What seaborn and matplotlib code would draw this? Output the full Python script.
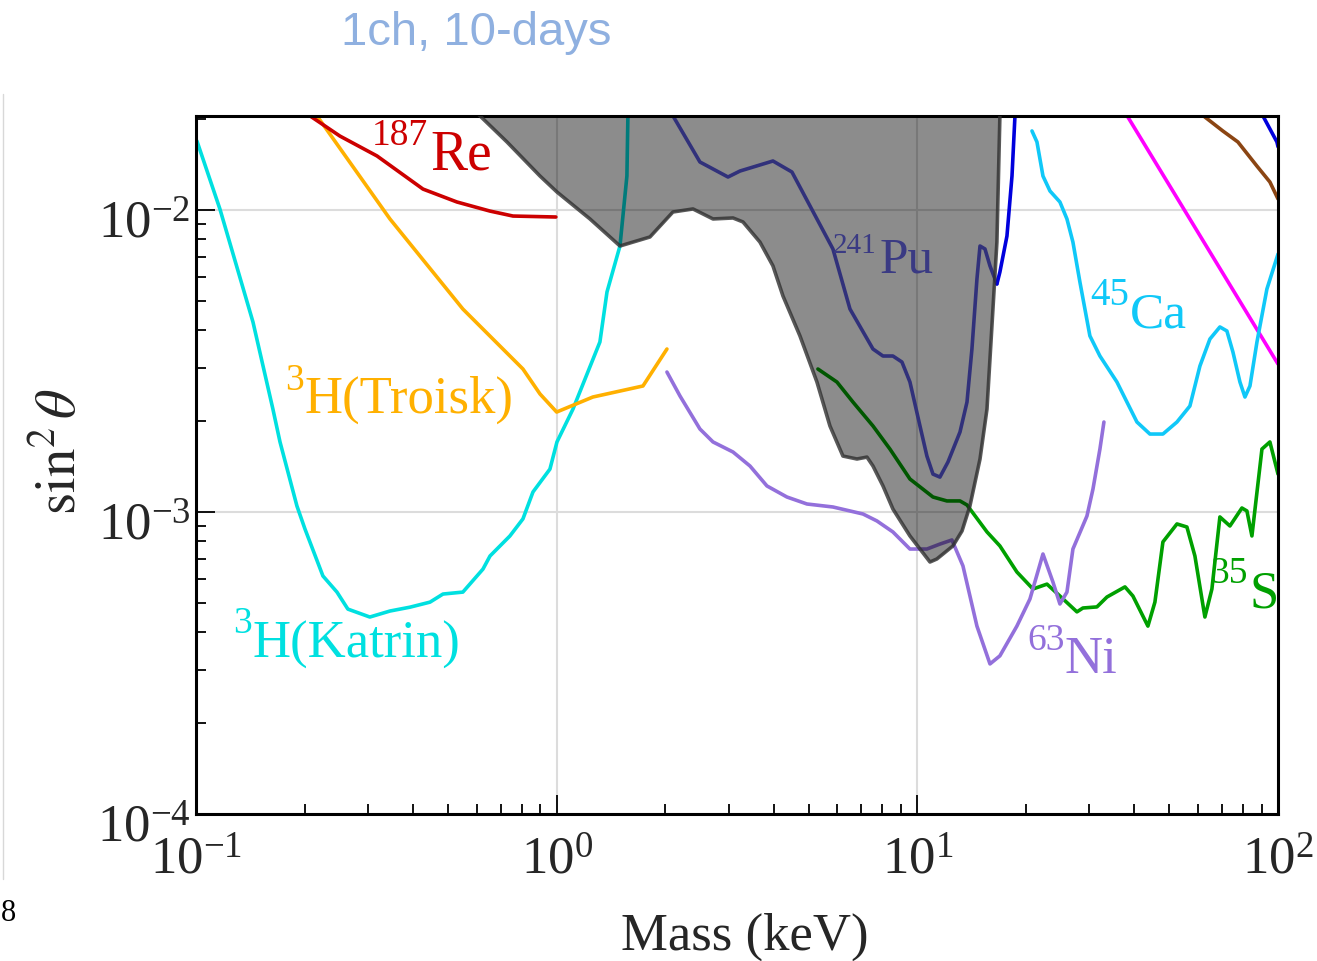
import matplotlib
matplotlib.use('Agg')
import matplotlib.pyplot as plt
import seaborn as sns
from matplotlib.lines import Line2D
from matplotlib.ticker import NullFormatter
from matplotlib.transforms import ScaledTranslation

# curves (mass in keV, sin^2 theta)
katrin_m = [0.1006, 0.1165, 0.1439, 0.1634, 0.171, 0.1905, 0.2005, 0.2249, 0.246, 0.2637,
            0.3034, 0.345, 0.392, 0.4455, 0.484, 0.5495, 0.6247, 0.6535, 0.742, 0.8064,
            0.8597, 0.958, 1.002, 1.11, 1.318, 1.379, 1.498, 1.566, 1.576, 1.58]
katrin_s = [0.01693, 0.01008, 0.004256, 0.002193, 0.001706, 0.001047, 0.000879, 0.000614, 0.000543, 0.000477,
            0.000449, 0.00047, 0.000484, 0.000503, 0.000535, 0.000543, 0.000647, 0.000715, 0.000833, 0.000949,
            0.001165, 0.001387, 0.001706, 0.002193, 0.003656, 0.005353, 0.0076, 0.01296, 0.0205, 0.03]

troisk_m = [0.199, 0.2165, 0.345, 0.5495, 0.8064, 0.899, 1.0, 1.26, 1.735, 2.022]
troisk_s = [0.0233, 0.0205, 0.00934, 0.0047, 0.002975, 0.00246, 0.002143, 0.002403, 0.002614, 0.003465]

re_m = [0.2, 0.207, 0.2507, 0.3176, 0.426, 0.529, 0.653, 0.7566, 0.995]
re_s = [0.0215, 0.0205, 0.01757, 0.0151, 0.01173, 0.01063, 0.00992, 0.00955, 0.00948]

excl_m = [0.5464, 0.6128, 0.7281, 0.8989, 1.002, 1.237, 1.498, 1.814, 2.101, 2.388, 2.713, 3.083,
          3.285, 3.661, 3.978, 4.241, 4.726, 5.268, 5.724, 6.219, 6.802, 7.25, 7.534, 8.03, 8.556,
          9.539, 10.84, 11.33, 12.55, 13.3, 13.99, 14.92, 15.6, 16.1, 16.62, 16.94, 17.0]
excl_s = [0.0233, 0.0205, 0.0168, 0.01296, 0.01147, 0.00934, 0.0076, 0.00814, 0.00985, 0.01008, 0.00934, 0.00941,
          0.00913, 0.00783, 0.00653, 0.00519, 0.00383, 0.002694, 0.001927, 0.001532, 0.001498, 0.00152, 0.00142, 0.00122, 0.001023,
          0.000833, 0.000683, 0.000699, 0.000772, 0.000865, 0.001047, 0.001498, 0.002193, 0.004128, 0.00783, 0.0205, 0.03]

pu_m = [2.0, 2.101, 2.496, 2.986, 3.223, 3.978, 4.491, 5.268, 5.834, 6.505, 7.534, 8.03, 8.556, 9.064,
        9.539, 10.17, 10.63, 11.05, 11.55, 12.16, 13.13, 13.73, 14.17, 14.63, 14.92, 15.4, 15.9, 16.62]
pu_s = [0.024, 0.0205, 0.01442, 0.01286, 0.01346, 0.01453, 0.01336, 0.00934, 0.00743, 0.0047, 0.003465, 0.003285, 0.003285, 0.003138,
        0.002694, 0.001927, 0.001532, 0.001335, 0.001305, 0.001464, 0.00184, 0.002312, 0.003465, 0.005907, 0.0076, 0.00743, 0.00653, 0.005689]

blue_m = [16.62, 16.94, 17.72, 18.3, 18.65, 18.8]
blue_s = [0.005689, 0.006232, 0.0082, 0.01296, 0.0205, 0.025]
blue2_m = [89.0, 90.8, 99.3, 100.0]
blue2_s = [0.023, 0.0205, 0.0168, 0.0162]

brown_m = [60.0, 62.7, 70.3, 77.4, 87.4, 94.95, 100.0]
brown_s = [0.0215, 0.02032, 0.01827, 0.0168, 0.01398, 0.01238, 0.01088]

mag_m = [36.0, 100.0]
mag_s = [0.023, 0.00309]

ca_m = [20.79, 21.46, 22.3, 23.32, 24.85, 25.99, 27.0, 28.23, 30.09, 32.08, 35.76, 38.12, 40.63, 44.14,
        47.96, 52.46, 56.98, 60.74, 64.74, 69.0, 72.15, 74.99, 78.42, 80.97, 83.6, 87.42, 93.15, 100.0]
ca_s = [0.01827, 0.0168, 0.01296, 0.01156, 0.01063, 0.00934, 0.00783, 0.005777, 0.00383, 0.003285, 0.002694, 0.002312, 0.001986, 0.001812,
        0.001812, 0.001986, 0.002244, 0.003044, 0.003739, 0.0041, 0.003976, 0.003386, 0.002694, 0.002403, 0.002614, 0.003655, 0.005473, 0.00715]

s_m = [5.301, 5.985, 6.631, 7.534, 8.395, 9.539, 11.05, 12.08, 13.13, 13.73, 15.6, 16.94, 18.88, 20.92,
       22.88, 24.85, 27.7, 28.78, 31.47, 33.55, 37.64, 39.6, 43.58, 45.57, 47.96, 52.46, 55.9, 58.83,
       62.7, 65.57, 69.0, 73.56, 79.41, 81.99, 84.65, 90.25, 94.95, 100.0]
s_s = [0.002975, 0.002694, 0.002312, 0.001927, 0.001616, 0.001286, 0.001121, 0.001088, 0.001088, 0.001055, 0.000859, 0.000772, 0.000633, 0.000556,
       0.000577, 0.000527, 0.000467, 0.000481, 0.000485, 0.000523, 0.000565, 0.000527, 0.000419, 0.000503, 0.000796, 0.000913, 0.000892, 0.000715,
       0.000449, 0.000556, 0.000963, 0.000899, 0.001031, 0.001008, 0.000833, 0.001616, 0.001706, 0.001335]

ni_m = [2.022, 2.198, 2.496, 2.713, 3.083, 3.436, 3.828, 4.35, 4.943, 5.834, 7.067, 7.727, 8.556, 9.539,
        10.63, 11.55, 12.47, 13.38, 14.63, 15.9, 16.94, 18.88, 20.52, 22.3, 23.77, 24.85, 25.99, 27.0,
        29.53, 30.69, 32.08, 32.91]
ni_s = [0.002907, 0.002421, 0.001883, 0.001706, 0.00158, 0.00142, 0.00122, 0.001121, 0.001063, 0.001039, 0.000985, 0.000934, 0.000859, 0.000754,
        0.000754, 0.000783, 0.000808, 0.000663, 0.000419, 0.000314, 0.000334, 0.000419, 0.000515, 0.000726, 0.000586, 0.000496, 0.000543, 0.000754,
        0.00097, 0.001192, 0.001616, 0.001986]

sns.set_style('ticks')
plt.rcParams['font.family'] = ['Liberation Serif', 'DejaVu Serif']
plt.rcParams['mathtext.fontset'] = 'stix'

fig = plt.figure(figsize=(13.17, 9.62), dpi=100)
ax = fig.add_axes([0.1488, 0.1528, 0.8216, 0.7256])
ax.set_xscale('log')
ax.set_yscale('log')

LW = 2.6
curves = [
    (katrin_m, katrin_s, '#00e0e0'),
    (troisk_m, troisk_s, '#ffb000'),
    (re_m, re_s, '#cc0000'),
    (pu_m, pu_s, '#5a5ae0'),
    (blue_m, blue_s, '#0000dd'),
    (blue2_m, blue2_s, '#0000dd'),
    (brown_m, brown_s, '#8b4513'),
    (mag_m, mag_s, '#ff00ff'),
    (ca_m, ca_s, '#10c8f8'),
    (s_m, s_s, '#00a000'),
    (ni_m, ni_s, '#9370db'),
]
for xm, ys, col in curves:
    sns.lineplot(x=xm, y=ys, ax=ax, sort=False, estimator=None, color=col, lw=LW, zorder=2)

# excluded region (shaded, drawn over the curves)
ax.fill_between(excl_m, excl_s, 1.0, color='black', alpha=0.45, lw=0, zorder=3)
ax.plot(excl_m, excl_s, color='#303030', alpha=0.8, lw=LW, zorder=4)

ax.set_xlim(0.1, 100)
ax.set_ylim(1e-4, 0.02048)
ax.grid(True, which='major', color='#dcdcdc', lw=1.5, zorder=0)
ax.set_axisbelow(True)


def iso_label(xs, ys, sup, xm, ym, main, col, ssize, msize, z=5):
    ax.text(xs, ys, sup, color=col, fontsize=ssize, ha='left', va='baseline', zorder=z)
    ax.text(xm, ym, main, color=col, fontsize=msize, ha='left', va='baseline', zorder=z)


iso_label(0.3076, 0.01654, '187', 0.4453, 0.01367, 'Re', '#cc0000', 27, 40)
iso_label(5.83, 0.00726, '241', 7.877, 0.00628, 'Pu', '#6a6af0', 21, 37, z=2)
iso_label(30.09, 0.004887, '45', 38.85, 0.0041, 'Ca', '#10c8f8', 28, 37)
iso_label(0.1765, 0.002555, '3', 0.2005, 0.002144, 'H(Troisk)', '#ffb000', 27, 38)
iso_label(0.1266, 0.0004004, '3', 0.1439, 0.000331, 'H(Katrin)', '#00e0e0', 27, 38)
iso_label(20.13, 0.000352, '63', 25.66, 0.000295, 'Ni', '#9370db', 27, 38)
iso_label(64.74, 0.000586, '35', 83.6, 0.000485, 'S', '#00a000', 27, 38)

for side in ['top', 'right', 'bottom', 'left']:
    ax.spines[side].set_linewidth(2.2)
    ax.spines[side].set_color('black')
ax.tick_params(which='both', direction='in', top=False, right=False, color='black', width=1.3)
ax.tick_params(which='major', length=14, labelsize=38)
ax.tick_params(which='minor', length=7)
ax.tick_params(axis='x', which='major', pad=16)
ax.tick_params(axis='y', which='major', pad=4)
ax.xaxis.set_minor_formatter(NullFormatter())
ax.yaxis.set_minor_formatter(NullFormatter())

# y tick labels sit a little below their ticks in the reference
shift = ScaledTranslation(0, -8 / 100, fig.dpi_scale_trans)
for tk in ax.yaxis.get_major_ticks():
    tk.label1.set_transform(tk.label1.get_transform() + shift)

ax.set_xlabel('Mass (keV)', fontsize=38)
ax.xaxis.set_label_coords(0.507, -0.14)
ax.set_ylabel(r'$\sin^2\theta$', fontsize=41)
ax.yaxis.set_label_coords(-0.10, 0.52)

fig.text(476 / 1317, 1 - 45 / 962, '1ch, 10-days', family='Liberation Sans', fontsize=34,
         color='#8fb0e0', ha='center', va='baseline')

# screenshot edge remnants
fig.add_artist(Line2D([3 / 1317, 3 / 1317], [1 - 95 / 962, 1 - 880 / 962], color='#d8d8d8', lw=1))
fig.text(1 / 1317, 1 - 921 / 962, '8', fontsize=22, color='black', ha='left', va='baseline')

fig.savefig('out.png', dpi=100)
